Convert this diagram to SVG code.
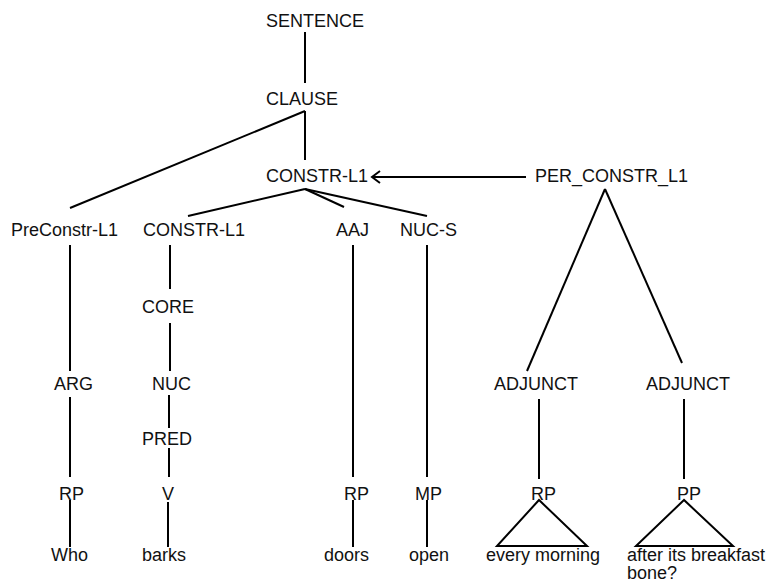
<svg xmlns="http://www.w3.org/2000/svg" width="767" height="582" viewBox="0 0 767 582">
<defs>
<style>
text{font-family:"Liberation Sans",Arial,sans-serif;font-size:18px;fill:#111;}
.e{stroke:#000;stroke-width:2;fill:none;stroke-linecap:butt;}
</style>
<marker id="arr" viewBox="0 0 10 14" refX="9" refY="7" markerWidth="10" markerHeight="14" markerUnits="userSpaceOnUse" orient="auto" overflow="visible">
<path d="M1,1 L9,7 L1,13" fill="none" stroke="#000" stroke-width="2"/>
</marker>
</defs>
<rect width="767" height="582" fill="#fff"/>
<g id="connectors">
<line class="e" x1="305" y1="32" x2="305" y2="83"/>
<line class="e" x1="305" y1="111" x2="305" y2="160"/>
<line class="e" x1="305" y1="111" x2="70" y2="208"/>
<line class="e" x1="305" y1="189" x2="188" y2="216"/>
<line class="e" x1="305" y1="189" x2="344" y2="207"/>
<line class="e" x1="305" y1="189" x2="427" y2="216"/>
<line class="e" x1="526" y1="177" x2="372" y2="177" marker-end="url(#arr)"/>
<line class="e" x1="605" y1="189" x2="527" y2="371"/>
<line class="e" x1="605" y1="189" x2="682" y2="363"/>
<line class="e" x1="70" y1="245" x2="70" y2="371"/>
<line class="e" x1="70" y1="397" x2="70" y2="477"/>
<line class="e" x1="70" y1="500" x2="70" y2="547"/>
<line class="e" x1="170" y1="245" x2="170" y2="289"/>
<line class="e" x1="170" y1="323" x2="170" y2="371"/>
<line class="e" x1="169" y1="395" x2="169" y2="428"/>
<line class="e" x1="169" y1="448" x2="169" y2="477"/>
<line class="e" x1="168" y1="502" x2="168" y2="547"/>
<line class="e" x1="353" y1="245" x2="353" y2="477"/>
<line class="e" x1="353" y1="500" x2="353" y2="547"/>
<line class="e" x1="427" y1="245" x2="427" y2="477"/>
<line class="e" x1="427" y1="500" x2="427" y2="547"/>
<line class="e" x1="539" y1="399" x2="539" y2="479"/>
<line class="e" x1="684" y1="399" x2="684" y2="479"/>
<polygon class="e" points="539,500 497,546 587,546"/>
<polygon class="e" points="684,500 636,546 733,546"/>
</g>
<g id="n-sentence"><text x="266" y="27">SENTENCE</text></g>
<g id="n-clause"><text x="266" y="105">CLAUSE</text></g>
<g id="n-constr-top"><text x="266" y="182">CONSTR-L1</text></g>
<g id="n-per-constr"><text x="535" y="182">PER_CONSTR_L1</text></g>
<g id="n-preconstr"><text x="11" y="236">PreConstr-L1</text></g>
<g id="n-constr-sub"><text x="143" y="236">CONSTR-L1</text></g>
<g id="n-aaj"><text x="336" y="236">AAJ</text></g>
<g id="n-nucs"><text x="400" y="236">NUC-S</text></g>
<g id="n-core"><text x="142" y="313">CORE</text></g>
<g id="n-arg"><text x="54" y="390">ARG</text></g>
<g id="n-nuc"><text x="152" y="390">NUC</text></g>
<g id="n-adjunct1"><text x="494" y="390">ADJUNCT</text></g>
<g id="n-adjunct2"><text x="646" y="390">ADJUNCT</text></g>
<g id="n-pred"><text x="142" y="445">PRED</text></g>
<g id="n-rp1"><text x="59" y="500">RP</text></g>
<g id="n-v"><text x="162" y="500">V</text></g>
<g id="n-rp2"><text x="344" y="500">RP</text></g>
<g id="n-mp"><text x="415" y="500">MP</text></g>
<g id="n-rp3"><text x="531" y="500">RP</text></g>
<g id="n-pp"><text x="677" y="500">PP</text></g>
<g id="w-who"><text x="51" y="561">Who</text></g>
<g id="w-barks"><text x="142" y="561">barks</text></g>
<g id="w-doors"><text x="324" y="561">doors</text></g>
<g id="w-open"><text x="409" y="561">open</text></g>
<g id="w-every"><text x="486" y="561">every morning</text></g>
<g id="w-after"><text x="627" y="561">after its breakfast</text><text x="627" y="579">bone?</text></g>
</svg>
